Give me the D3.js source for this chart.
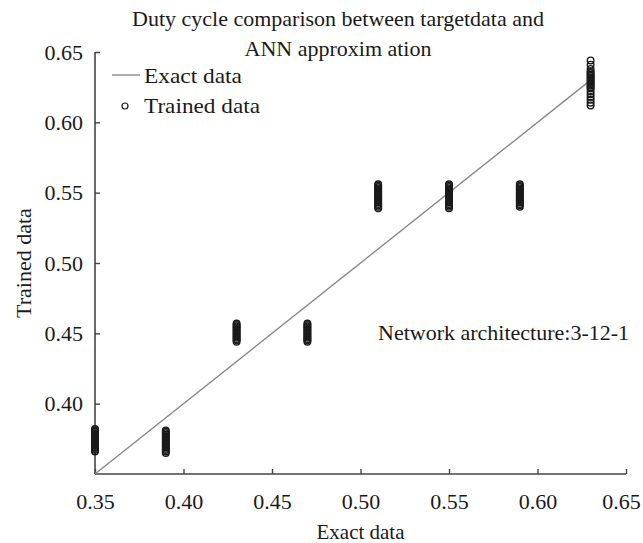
<!DOCTYPE html>
<html>
<head>
<meta charset="utf-8">
<script src="https://cdn.jsdelivr.net/npm/d3@7"></script>
<style>
  body { margin: 0; background: #fff; }
</style>
</head>
<body>
<div id="chart"></div>
<script>
// exact (target) duty cycle values and the trained ANN outputs at each one
const exactValues = [0.35, 0.39, 0.43, 0.47, 0.51, 0.55, 0.59, 0.63]
const trained035 = [0.382, 0.381, 0.380, 0.379, 0.378, 0.377, 0.376, 0.375, 0.374, 0.373, 0.372, 0.371, 0.370, 0.369, 0.368, 0.367, 0.366]
const trained039 = [0.381, 0.380, 0.379, 0.378, 0.377, 0.376, 0.375, 0.374, 0.373, 0.372, 0.371, 0.370, 0.369, 0.368, 0.367, 0.366, 0.365]
const trained043 = [0.457, 0.456, 0.455, 0.454, 0.453, 0.452, 0.451, 0.450, 0.449, 0.448, 0.447, 0.446, 0.445, 0.444]
const trained047 = [0.457, 0.456, 0.455, 0.454, 0.453, 0.452, 0.451, 0.450, 0.449, 0.448, 0.447, 0.446, 0.445, 0.444]
const trained051 = [0.556, 0.555, 0.554, 0.553, 0.552, 0.551, 0.550, 0.549, 0.548, 0.547, 0.546, 0.545, 0.544, 0.543, 0.542, 0.541, 0.540, 0.539]
const trained055 = [0.556, 0.555, 0.554, 0.553, 0.552, 0.551, 0.550, 0.549, 0.548, 0.547, 0.546, 0.545, 0.544, 0.543, 0.542, 0.541, 0.540, 0.539]
const trained059 = [0.556, 0.555, 0.554, 0.553, 0.552, 0.551, 0.550, 0.549, 0.548, 0.547, 0.546, 0.545, 0.544, 0.543, 0.542, 0.541, 0.540]
const trained063 = [0.644, 0.641, 0.638, 0.636, 0.635, 0.634, 0.633, 0.632, 0.631, 0.630, 0.629, 0.628, 0.627, 0.626, 0.625, 0.624, 0.622, 0.620, 0.618, 0.616, 0.614, 0.612]
const trainedGroups = [trained035, trained039, trained043, trained047, trained051, trained055, trained059, trained063]

const exactLine = [0.35, 0.63]   // y = x reference line
const xTicks = [0.35, 0.40, 0.45, 0.50, 0.55, 0.60, 0.65]
const yTicks = [0.40, 0.45, 0.50, 0.55, 0.60, 0.65]

const titleLines = ["Duty cycle comparison between targetdata and", "ANN approxim ation"]

const width = 643, height = 543
const margin = {top: 52, right: 17, bottom: 69, left: 95}
const serif = "'Liberation Serif', 'Times New Roman', serif"

const svg = d3.select("#chart")
  .append("svg")
    .attr("width", width)
    .attr("height", height)
    .style("font-family", serif)

const x = d3.scaleLinear().domain([0.35, 0.65]).range([margin.left, width - margin.right])
const y = d3.scaleLinear().domain([0.35, 0.65]).range([height - margin.bottom, margin.top])

const axisColor = "#444"
const textColor = "#1a1a1a"

// x axis, ticks pointing up into the plot
const xAxis = svg.append("g")
  .attr("transform", `translate(0,${y(0.35)})`)
  .call(d3.axisBottom(x).tickValues(xTicks).tickFormat(d3.format(".2f")).tickSize(-5).tickPadding(19))
xAxis.attr("font-family", serif).attr("font-size", 22)
xAxis.select(".domain").attr("stroke", axisColor).attr("stroke-width", 1.6).attr("d", `M${x(0.35)},0H${x(0.65)}`)
xAxis.selectAll(".tick line").attr("stroke", axisColor).attr("stroke-width", 1.4)
xAxis.selectAll(".tick text")
  .attr("fill", textColor)
  .attr("dx", (d, i) => i === xTicks.length - 1 ? -5 : 0)   // last label pulled in, as in the original

// y axis, ticks pointing right
const yAxis = svg.append("g")
  .attr("transform", `translate(${x(0.35)},0)`)
  .call(d3.axisLeft(y).tickValues(yTicks).tickFormat(d3.format(".2f")).tickSize(-5).tickPadding(12))
yAxis.attr("font-family", serif).attr("font-size", 22)
yAxis.select(".domain").attr("stroke", axisColor).attr("stroke-width", 1.6).attr("d", `M0,${y(0.35)}V${y(0.65)}`)
yAxis.selectAll(".tick line").attr("stroke", axisColor).attr("stroke-width", 1.4)
yAxis.selectAll(".tick text").attr("fill", textColor)

// exact data line
svg.append("line")
  .attr("x1", x(exactLine[0])).attr("y1", y(exactLine[0]))
  .attr("x2", x(exactLine[1])).attr("y2", y(exactLine[1]))
  .attr("stroke", "#888")
  .attr("stroke-width", 1.4)

// trained data circles
const points = []
exactValues.forEach((ev, i) => trainedGroups[i].forEach(tv => points.push([ev, tv])))

svg.append("g")
  .selectAll("circle")
  .data(points)
  .join("circle")
    .attr("cx", d => x(d[0]))
    .attr("cy", d => y(d[1]))
    .attr("r", 3.3)
    .attr("fill", "none")
    .attr("stroke", "#1a1a1a")
    .attr("stroke-width", 1.4)

// title
svg.append("g").selectAll("text")
  .data(titleLines)
  .join("text")
    .attr("x", 338)
    .attr("y", (d, i) => 26 + i * 30)
    .attr("text-anchor", "middle")
    .attr("font-size", 22)
    .attr("fill", textColor)
    .text(d => d)

// legend
const legend = svg.append("g")
legend.append("line")
  .attr("x1", 112).attr("x2", 140).attr("y1", 75).attr("y2", 75)
  .attr("stroke", "#888").attr("stroke-width", 1.4)
legend.append("text")
  .attr("x", 144).attr("y", 83)
  .attr("font-size", 22).attr("fill", textColor)
  .attr("textLength", 98).attr("lengthAdjust", "spacingAndGlyphs")
  .text("Exact data")
legend.append("circle")
  .attr("cx", 125).attr("cy", 106).attr("r", 3)
  .attr("fill", "none").attr("stroke", "#1a1a1a").attr("stroke-width", 1.2)
legend.append("text")
  .attr("x", 144).attr("y", 113)
  .attr("font-size", 22).attr("fill", textColor)
  .attr("textLength", 116).attr("lengthAdjust", "spacingAndGlyphs")
  .text("Trained data")

// annotation
svg.append("text")
  .attr("x", 378).attr("y", 340)
  .attr("font-size", 22)
  .attr("fill", textColor)
  .text("Network architecture:3-12-1")

// axis titles
svg.append("text")
  .attr("x", (x(0.35) + x(0.65)) / 2).attr("y", 539)
  .attr("text-anchor", "middle")
  .attr("font-size", 21)
  .attr("fill", textColor)
  .text("Exact data")

svg.append("text")
  .attr("transform", `translate(31,${(y(0.35) + y(0.65)) / 2}) rotate(-90)`)
  .attr("text-anchor", "middle")
  .attr("font-size", 22)
  .attr("fill", textColor)
  .text("Trained data")
</script>
</body>
</html>
